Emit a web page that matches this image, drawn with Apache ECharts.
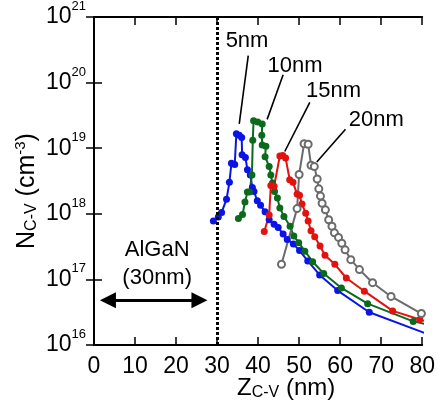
<!DOCTYPE html>
<html>
<head>
<meta charset="utf-8">
<script src="https://cdn.jsdelivr.net/npm/echarts@6/dist/echarts.min.js"></script>
<style>
html, body { margin: 0; padding: 0; background: #fff; }
#container { width: 438px; height: 403px; }
</style>
</head>
<body>
<div id="container"></div>
<script>
// tick values
var xTicks = [0, 10, 20, 30, 40, 50, 60, 70, 80];
var yTickExps = [16, 17, 18, 19, 20, 21];

// 5nm (blue)
var x5 = [29.1, 30.3, 31.1, 32.3, 33.0, 33.5, 34.3, 34.7, 35.4, 36.0, 36.1, 36.9, 37.4, 38.1, 38.6, 39.0, 39.8, 40.6, 41.7, 42.7, 43.9, 44.9, 46.1, 47.1, 48.6, 50.1, 52.1, 55.0, 59.4, 67.1, 82.0];
var n5 = [7.76e17, 8.91e17, 1.05e18, 1.66e18, 3.02e18, 5.89e18, 5.62e18, 1.66e19, 1.58e19, 1.45e19, 7.94e18, 7.24e18, 4.68e18, 3.89e18, 2.51e18, 2.19e18, 1.58e18, 1.35e18, 1.07e18, 8.13e17, 6.92e17, 6.17e17, 4.90e17, 4.07e17, 3.47e17, 2.75e17, 1.91e17, 1.17e17, 6.76e16, 3.16e16, 1.41e16];

// 10nm (green)
var x10 = [35.2, 36.2, 36.8, 37.4, 37.9, 38.5, 38.7, 38.9, 39.9, 41.0, 40.9, 41.0, 41.9, 41.7, 42.7, 43.1, 43.5, 44.0, 44.7, 45.3, 46.3, 47.8, 48.7, 49.9, 51.4, 53.3, 56.0, 60.3, 66.7, 77.8, 82.0];
var n10 = [8.51e17, 9.77e17, 1.51e18, 2.14e18, 2.14e18, 3.89e18, 1.32e19, 2.63e19, 2.51e19, 2.34e19, 1.58e19, 1.12e19, 1.07e19, 7.41e18, 5.25e18, 3.89e18, 2.95e18, 2.19e18, 1.74e18, 1.23e18, 9.12e17, 6.46e17, 4.57e17, 3.63e17, 2.69e17, 1.86e17, 1.23e17, 7.41e16, 4.27e16, 2.29e16, 2.00e16];

// 15nm (red)
var x15 = [41.5, 42.7, 43.1, 43.9, 45.3, 46.0, 46.7, 47.7, 48.5, 49.5, 50.1, 50.7, 51.6, 52.2, 52.9, 53.8, 55.1, 56.3, 58.7, 61.5, 65.9, 72.8, 79.4, 82.0];
var n15 = [5.37e17, 9.55e17, 2.69e18, 2.63e18, 7.59e18, 7.76e18, 7.08e18, 3.31e18, 3.02e18, 2.00e18, 1.91e18, 1.41e18, 1.02e18, 7.76e17, 5.50e17, 4.47e17, 3.24e17, 2.34e17, 1.70e17, 1.05e17, 6.61e16, 3.31e16, 2.45e16, 2.19e16];

// 20nm (grey, open)
var x20 = [45.7, 49.5, 50.0, 51.2, 52.2, 52.9, 53.7, 54.4, 54.8, 55.2, 55.6, 56.4, 57.2, 58.0, 58.6, 59.6, 60.4, 61.2, 62.6, 64.7, 67.9, 72.4, 79.8];
var n20 = [1.70e17, 1.20e18, 3.98e18, 1.17e19, 1.15e19, 5.50e18, 5.25e18, 3.39e18, 2.40e18, 1.86e18, 1.45e18, 1.15e18, 8.13e17, 6.46e17, 5.13e17, 4.37e17, 3.55e17, 2.82e17, 2.00e17, 1.41e17, 8.91e16, 5.50e16, 3.02e16];

// thickness labels: [label x, label y, leader start x, y, leader end x, y]
var tagNames = ['5nm', '10nm', '15nm', '20nm'];
var tagPos = [
    [37.3, 4.37e20, 37.6, 2.57e20, 35.4, 2.34e19],
    [49.0, 1.82e20, 46.1, 1.32e20, 42.2, 2.75e19],
    [58.4, 7.59e19, 52.6, 5.01e19, 46.5, 8.91e18],
    [68.8, 2.69e19, 61.3, 1.95e19, 54.3, 6.17e18]
];

var font = 'Liberation Sans, Arial, sans-serif';

function pairs(xs, ys) {
    return xs.map(function (x, i) { return [x, ys[i]]; });
}

var dom = document.getElementById('container');
var myChart = echarts.init(dom);

function curve(name, xs, ys, color, idx, hollow) {
    var t = tagPos[idx];
    return {
        name: name,
        type: 'line',
        data: pairs(xs, ys),
        symbol: hollow ? 'emptyCircle' : 'circle',
        symbolSize: 7,
        showSymbol: true,
        lineStyle: { color: color, width: 2 },
        itemStyle: { color: color, borderColor: color, borderWidth: hollow ? 1.2 : 0 },
        z: 3,
        markLine: {
            silent: true,
            symbol: 'none',
            lineStyle: { color: '#000', width: 1.6, type: 'solid' },
            label: { show: false },
            data: [[{ coord: [t[2], t[3]] }, { coord: [t[4], t[5]] }]]
        },
        markPoint: {
            silent: true,
            symbol: 'circle',
            symbolSize: 0,
            label: {
                show: true, position: 'inside', color: '#000',
                fontSize: 22, fontFamily: font,
                formatter: tagNames[idx]
            },
            data: [{ coord: [t[0], t[1]] }]
        }
    };
}

var axisBase = {
    axisLine: { lineStyle: { color: '#000', width: 2 } },
    axisTick: { inside: true, length: 8, lineStyle: { color: '#000', width: 1.5 } },
    splitLine: { show: false }
};

option = {
    animation: false,
    backgroundColor: '#fff',
    textStyle: { fontFamily: font },
    grid: { left: 94, right: 14, top: 14, bottom: 58 },
    xAxis: [
        Object.assign({
            type: 'value', min: 0, max: 80, interval: 10,
            axisLabel: { color: '#000', fontSize: 23, fontFamily: font, margin: 10 }
        }, axisBase),
        Object.assign({
            type: 'value', min: 0, max: 80, interval: 10, position: 'top',
            axisLabel: { show: false }
        }, axisBase)
    ],
    yAxis: [
        Object.assign({
            type: 'log', logBase: 10, min: 1e16, max: 1e21,
            axisLabel: {
                margin: 8,
                formatter: function (v) {
                    var e = Math.round(Math.log(v) / Math.LN10);
                    if (yTickExps.indexOf(e) < 0) return '';
                    return '{b|10}{s|' + e + '}';
                },
                rich: {
                    b: { fontSize: 23, fontFamily: font, color: '#000', lineHeight: 34 },
                    s: { fontSize: 13, fontFamily: font, color: '#000', lineHeight: 13, verticalAlign: 'top' }
                }
            }
        }, axisBase),
        Object.assign({
            type: 'log', logBase: 10, min: 1e16, max: 1e21, position: 'right',
            axisLabel: { show: false }
        }, axisBase)
    ],
    graphic: [
        {
            type: 'text', left: 237, top: 375,
            style: {
                text: '{n|Z}{sub|C-V}{n| (nm)}',
                rich: {
                    n: { fontSize: 24, fontFamily: font, fill: '#000', lineHeight: 26 },
                    sub: { fontSize: 16, fontFamily: font, fill: '#000', lineHeight: 26, padding: [10, 0, 0, 0] }
                }
            }
        },
        {
            type: 'text', x: 27, y: 191, rotation: Math.PI / 2,
            style: {
                text: '{n|N}{sub|C-V}{n| (cm}{sup|-3}{n|)}',
                align: 'center', verticalAlign: 'middle',
                rich: {
                    n: { fontSize: 25, fontFamily: font, fill: '#000', lineHeight: 28 },
                    sub: { fontSize: 16, fontFamily: font, fill: '#000', lineHeight: 28, padding: [10, 0, 0, 0] },
                    sup: { fontSize: 15, fontFamily: font, fill: '#000', lineHeight: 15, verticalAlign: 'top' }
                }
            }
        }
    ],
    series: [
        curve('5nm', x5, n5, '#0a14e6', 0, false),
        curve('10nm', x10, n10, '#0b6a1c', 1, false),
        curve('15nm', x15, n15, '#e3120f', 2, false),
        curve('20nm', x20, n20, '#6b6b6b', 3, true),
        {
            name: 'boundary',
            type: 'line',
            data: [],
            markLine: {
                silent: true,
                symbol: ['none', 'none'],
                label: { show: false },
                lineStyle: { color: '#000', width: 3, type: [3, 2] },
                data: [{ xAxis: 30 }]
            }
        },
        {
            name: 'AlGaN',
            type: 'line',
            data: [],
            markLine: {
                silent: true,
                label: { show: false },
                symbol: ['triangle', 'triangle'],
                symbolSize: 16,
                lineStyle: { color: '#000', width: 3, type: 'solid' },
                data: [[{ coord: [3.4, 4.79e16] }, { coord: [25.7, 4.79e16] }]]
            },
            markPoint: {
                silent: true,
                symbol: 'circle',
                symbolSize: 0,
                label: {
                    show: true, position: 'inside', color: '#000',
                    fontSize: 22, fontFamily: font, lineHeight: 28,
                    formatter: 'AlGaN\n(30nm)'
                },
                data: [{ coord: [15.4, 1.74e17] }]
            }
        }
    ]
};

if (option && typeof option === 'object') {
    myChart.setOption(option, true);
}
</script>
</body>
</html>
